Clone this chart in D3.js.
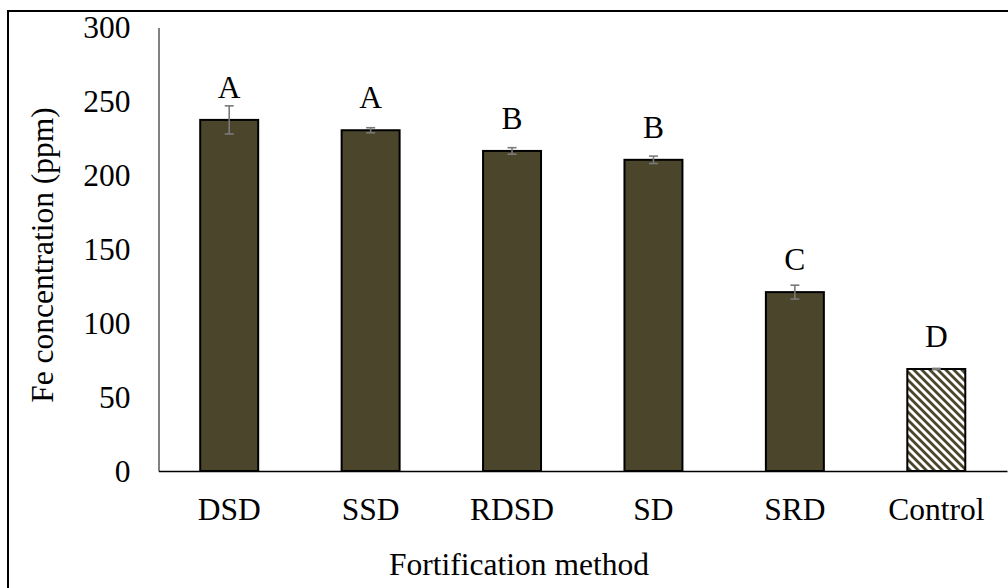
<!DOCTYPE html>
<html>
<head>
<meta charset="utf-8">
<script src="https://cdn.jsdelivr.net/npm/d3@7"></script>
<style>
  html, body { margin: 0; padding: 0; background: #fff; }
  svg { display: block; }
</style>
</head>
<body>
<svg id="chart" width="1008" height="588"></svg>
<script>
// Fe concentration by fortification method
const methods = ["DSD", "SSD", "RDSD", "SD", "SRD", "Control"];
const feMean = [237.5, 230.5, 216.5, 210.5, 121, 69];
const feErr = [9.5, 1.7, 2.2, 2.5, 4.7, 0.4];
const groupLetters = ["A", "A", "B", "B", "C", "D"];
const yTicks = [0, 50, 100, 150, 200, 250, 300];

const FONT = "'Liberation Serif'";
const FSIZE = "31.5px";
const svg = d3.select("#chart");
const barColor = "#4a452b";

// frame around the figure
svg.append("rect")
  .attr("x", 8).attr("y", 11)
  .attr("width", 1010).attr("height", 600)
  .attr("fill", "none").attr("stroke", "#000").attr("stroke-width", 2);

const plotLeft = 158.5, plotRight = 1007, plotTop = 27.5, plotBottom = 471;

const x = d3.scaleBand()
  .domain(methods)
  .range([plotLeft, plotRight])
  .paddingInner(0.59)
  .paddingOuter(0.295);

const y = d3.scaleLinear()
  .domain([0, 300])
  .range([plotBottom, plotTop]);

// hatch pattern for the control bar
const defs = svg.append("defs");
const pat = defs.append("pattern")
  .attr("id", "hatch")
  .attr("patternUnits", "userSpaceOnUse")
  .attr("width", 8).attr("height", 8);
pat.append("rect").attr("width", 8).attr("height", 8).attr("fill", "#fff");
pat.append("path")
  .attr("d", "M0,0 L8,8 M-4,4 L4,12 M4,-4 L12,4")
  .attr("stroke", barColor).attr("stroke-width", 2.8);

function styleText(sel) {
  return sel.style("font-family", FONT).style("font-size", FSIZE).attr("fill", "#000");
}

// y axis
const yAxis = d3.axisLeft(y).tickValues(yTicks).tickSize(0).tickPadding(28);
const gy = svg.append("g").attr("transform", `translate(${plotLeft},0)`).call(yAxis);
gy.attr("font-family", null).attr("font-size", null);
gy.select(".domain").attr("stroke", "#595959").attr("stroke-width", 1.5);
styleText(gy.selectAll("text")).attr("dy", "0.33em");

// bars
const rows = methods.map((m, i) => ({ m, v: feMean[i], e: feErr[i], g: groupLetters[i] }));

svg.append("g").selectAll("rect")
  .data(rows)
  .join("rect")
  .attr("x", d => x(d.m))
  .attr("y", d => y(d.v))
  .attr("width", x.bandwidth())
  .attr("height", d => y(0) - y(d.v))
  .attr("fill", d => d.m === "Control" ? "url(#hatch)" : barColor)
  .attr("stroke", "#000")
  .attr("stroke-width", 2);

// error bars
const eb = svg.append("g").attr("stroke", "#7a7a7a").attr("stroke-width", 1.6);
rows.forEach(d => {
  const cx = x(d.m) + x.bandwidth() / 2;
  const t = y(d.v + d.e), b = y(d.v - d.e);
  eb.append("line").attr("x1", cx).attr("x2", cx).attr("y1", t).attr("y2", b);
  eb.append("line").attr("x1", cx - 4.5).attr("x2", cx + 4.5).attr("y1", t).attr("y2", t);
  eb.append("line").attr("x1", cx - 4.5).attr("x2", cx + 4.5).attr("y1", b).attr("y2", b);
});

// x axis
const xAxis = d3.axisBottom(x).tickSize(0).tickPadding(27);
const gx = svg.append("g").attr("transform", `translate(0,${plotBottom})`).call(xAxis);
gx.attr("font-family", null).attr("font-size", null);
gx.select(".domain").attr("stroke", "#000").attr("stroke-width", 1.5);
styleText(gx.selectAll("text")).attr("dy", "0.71em");

// significance letters
styleText(svg.append("g").selectAll("text")
  .data(rows)
  .join("text")
  .attr("x", d => x(d.m) + x.bandwidth() / 2)
  .attr("y", d => y(d.v) - 22)
  .attr("text-anchor", "middle")
  .text(d => d.g));

// axis titles
styleText(svg.append("text")
  .attr("x", 519)
  .attr("y", 575)
  .attr("text-anchor", "middle")
  .text("Fortification method"));

styleText(svg.append("text")
  .attr("transform", "translate(53,255) rotate(-90)")
  .attr("text-anchor", "middle")
  .text("Fe concentration (ppm)"));
</script>
</body>
</html>
